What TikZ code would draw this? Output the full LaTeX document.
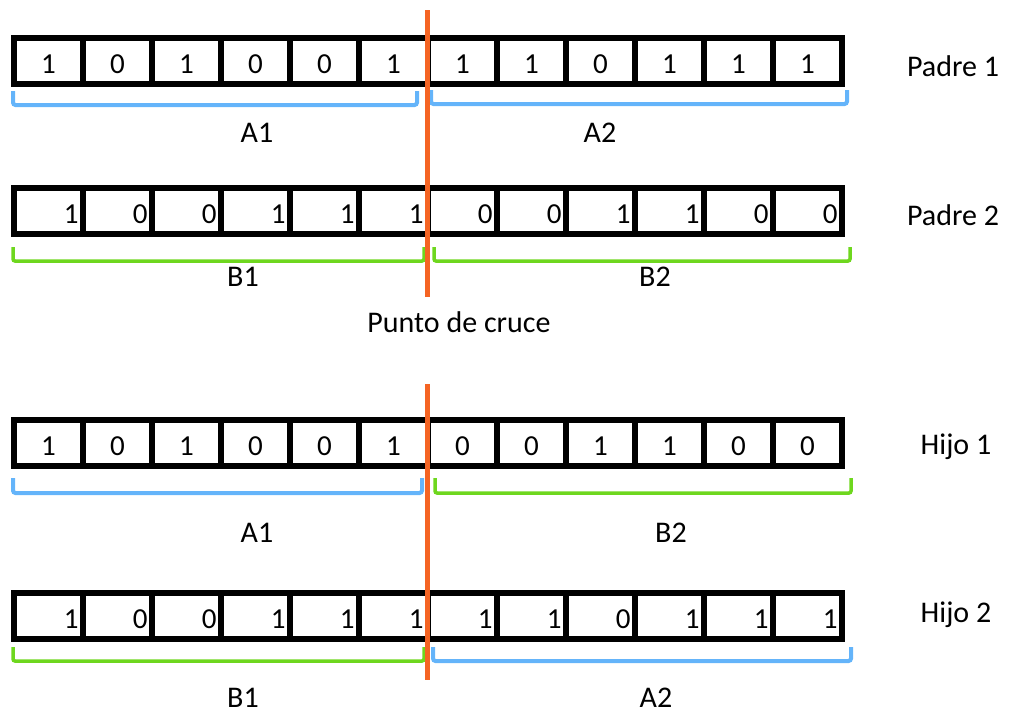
\documentclass[tikz,border=0pt]{standalone}
\usepackage{fontspec}
\setmainfont{Carlito}
\definecolor{bbl}{RGB}{100,180,250}
\definecolor{bgr}{RGB}{110,215,30}
\definecolor{orng}{RGB}{245,100,35}
\begin{document}
\begin{tikzpicture}[x=1pt,y=-1pt,
  cell/.style={draw=black,line width=5.5pt,rectangle,minimum width=69pt,minimum height=46pt,inner sep=0pt,
    font=\fontsize{29}{32}\selectfont,text height=24pt,text depth=0pt},
  cellc/.style={cell,text width=69pt,align=center},
  cellr/.style={cell,text width=60pt,inner xsep=4.5pt,align=right},
  lbl/.style={font=\fontsize{30}{34}\selectfont,inner sep=0pt},
  brA/.style={draw=bbl,line width=4pt,rounded corners=2.5pt},
  brB/.style={draw=bgr,line width=3.5pt,rounded corners=2pt},
  cut/.style={draw=orng,line width=5pt}]
\useasboundingbox (0,0) rectangle (1010,715);
% row 1: Padre 1
\foreach \v [count=\i] in {1,0,1,0,0,1,1,1,0,1,1,1}
  \node[cellc] (p1c\i) at ({14+69*(\i-0.5)},61) {\v};
% row 2: Padre 2
\foreach \v [count=\i] in {1,0,0,1,1,1,0,0,1,1,0,0}
  \node[cellr] (p2c\i) at ({14+69*(\i-0.5)},211) {\v};
% row 3: Hijo 1
\foreach \v [count=\i] in {1,0,1,0,0,1,0,0,1,1,0,0}
  \node[cellc] (h1c\i) at ({14+69*(\i-0.5)},443) {\v};
% row 4: Hijo 2
\foreach \v [count=\i] in {1,0,0,1,1,1,1,1,0,1,1,1}
  \node[cellr] (h2c\i) at ({14+69*(\i-0.5)},616) {\v};
% braces
\draw[brA] (13,91) -- (13,105) -- (417,105) -- (417,91);
\draw[brA] (431,90) -- (431,104) -- (847,104) -- (847,90);
\draw[brB] (13,247) -- (13,261) -- (424,261) -- (424,247);
\draw[brB] (434,247) -- (434,261) -- (850,261) -- (850,247);
\draw[brA] (13,478) -- (13,493) -- (422,493) -- (422,478);
\draw[brB] (435,478) -- (435,493) -- (851,493) -- (851,478);
\draw[brB] (13,647) -- (13,661) -- (424,661) -- (424,647);
\draw[brA] (433,647) -- (433,661) -- (851,661) -- (851,647);
% crossover lines
\coordinate (cutA1) at (427,10);
\coordinate (cutA2) at (427,297);
\coordinate (cutB1) at (427,384);
\coordinate (cutB2) at (427,680);
\draw[cut] (cutA1) -- (cutA2);
\draw[cut] (cutB1) -- (cutB2);
% labels
\node[lbl] (la1) at (257,133) {A1};
\node[lbl] (la2) at (600,133) {A2};
\node[lbl] (lb1) at (243,277) {B1};
\node[lbl] (lb2) at (655,277) {B2};
\node[lbl] (lpc) at (459,322) {Punto de cruce};
\node[lbl] (la1b) at (257,533) {A1};
\node[lbl] (lb2b) at (671,533) {B2};
\node[lbl] (lb1b) at (243,698) {B1};
\node[lbl] (la2b) at (656,698) {A2};
\node[lbl] (np1) at (953,66) {Padre 1};
\node[lbl] (np2) at (953,215) {Padre 2};
\node[lbl] (nh1) at (956,447) {Hijo 1};
\node[lbl] (nh2) at (956,615) {Hijo 2};
\end{tikzpicture}
\end{document}
